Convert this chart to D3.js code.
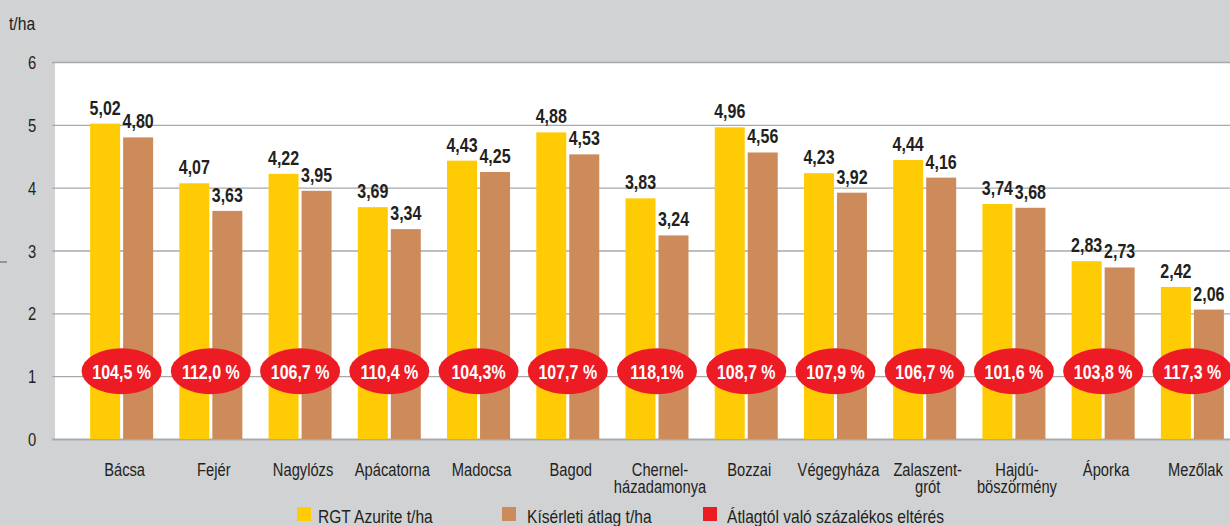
<!DOCTYPE html>
<html>
<head>
<meta charset="utf-8">
<script src="https://cdn.jsdelivr.net/npm/d3@7"></script>
<style>
  html, body { margin: 0; padding: 0; background: #d1d2d4; }
  svg { display: block; }
</style>
</head>
<body>
<div id="chart"></div>
<script>
const categories = [
  ["Bácsa"], ["Fejér"], ["Nagylózs"], ["Apácatorna"], ["Madocsa"], ["Bagod"],
  ["Chernel-", "házadamonya"], ["Bozzai"], ["Végegyháza"], ["Zalaszent-", "grót"],
  ["Hajdú-", "böszörmény"], ["Áporka"], ["Mezőlak"]
]
const azurite = [5.02, 4.07, 4.22, 3.69, 4.43, 4.88, 3.83, 4.96, 4.23, 4.44, 3.74, 2.83, 2.42]
const average = [4.80, 3.63, 3.95, 3.34, 4.25, 4.53, 3.24, 4.56, 3.92, 4.16, 3.68, 2.73, 2.06]
const percent = ["104,5 %", "112,0 %", "106,7 %", "110,4 %", "104,3%", "107,7 %", "118,1%",
  "108,7 %", "107,9 %", "106,7 %", "101,6 %", "103,8 %", "117,3 %"]
const yTicks = [0, 1, 2, 3, 4, 5, 6]
const legendItems = ["RGT Azurite t/ha", "Kísérleti átlag t/ha", "Átlagtól való százalékos eltérés"]

const width = 1230
const height = 526
const plot = {left: 55, top: 62, bottom: 439}
const colors = {yellow: "#ffcb05", tan: "#cd8b5c", red: "#ed1c24", text: "#231f20", grid: "#a7a9ac"}
const font = "'Liberation Sans', Arial, sans-serif"

// squeeze text horizontally, the original uses a condensed face
const squeeze = k => (x, y) => `translate(${x},${y}) scale(${k},1)`

const svg = d3.select("#chart").append("svg")
    .attr("width", width)
    .attr("height", height)
    .attr("font-family", font)

svg.append("rect")
    .attr("width", width).attr("height", height)
    .attr("fill", "#d1d2d4")

svg.append("rect")
    .attr("x", plot.left).attr("y", plot.top)
    .attr("width", width - plot.left).attr("height", plot.bottom - plot.top)
    .attr("fill", "white")

const idx = d3.range(categories.length)
const x = d3.scaleBand()
    .domain(idx)
    .range([77, 1237])

const y = d3.scaleLinear()
    .domain([0, 6])
    .range([plot.bottom, plot.top])

const barW = 30
const gap = 3

// grid + y axis
svg.append("g")
    .attr("transform", `translate(52,0)`)
    .call(d3.axisLeft(y).tickValues(yTicks).tickSize(0).tickFormat(d3.format("d")))
    .call(g => g.select(".domain").remove())
    .call(g => g.selectAll(".tick text")
        .attr("font-family", font)
        .attr("font-size", 18.5)
        .attr("fill", colors.text)
        .attr("text-anchor", "middle")
        .attr("x", 0)
        .attr("dy", "0.36em")
        .attr("transform", squeeze(0.8)(-20, 0)))
    .call(g => g.selectAll(".tick").append("line")
        .attr("x2", width)
        .attr("stroke", colors.grid)
        .attr("stroke-width", d => d === 0 ? 2 : 1.3))

svg.append("line")
    .attr("x1", 0).attr("x2", 7)
    .attr("y1", 262).attr("y2", 262)
    .attr("stroke", "#555").attr("stroke-width", 1)

svg.append("text")
    .attr("transform", squeeze(0.85)(9, 30))
    .attr("font-size", 18.5)
    .attr("fill", colors.text)
    .text("t/ha")

const groups = svg.append("g")
  .selectAll("g")
  .data(idx)
  .join("g")
    .attr("transform", i => `translate(${x(i) + x.bandwidth() / 2},0)`)

groups.append("rect")
    .attr("x", -barW - gap / 2)
    .attr("y", i => y(azurite[i]))
    .attr("width", barW)
    .attr("height", i => y(0) - y(azurite[i]))
    .attr("fill", colors.yellow)

groups.append("rect")
    .attr("x", gap / 2)
    .attr("y", i => y(average[i]))
    .attr("width", barW)
    .attr("height", i => y(0) - y(average[i]))
    .attr("fill", colors.tan)

const fmt = v => d3.format(".2f")(v).replace(".", ",")

groups.append("text")
    .attr("transform", i => squeeze(0.8)(-barW / 2 - gap / 2, y(azurite[i]) - 9))
    .attr("text-anchor", "middle")
    .attr("font-weight", "bold")
    .attr("font-size", 20)
    .attr("fill", colors.text)
    .text(i => fmt(azurite[i]))

groups.append("text")
    .attr("transform", i => squeeze(0.8)(barW / 2 + gap / 2, y(average[i]) - 9))
    .attr("text-anchor", "middle")
    .attr("font-weight", "bold")
    .attr("font-size", 20)
    .attr("fill", colors.text)
    .text(i => fmt(average[i]))

groups.append("ellipse")
    .attr("cx", 0)
    .attr("cy", y(1) - 5)
    .attr("rx", 40)
    .attr("ry", 23)
    .attr("fill", colors.red)

groups.append("text")
    .attr("transform", squeeze(0.78)(0, y(1) - 5))
    .attr("dy", "0.36em")
    .attr("text-anchor", "middle")
    .attr("font-weight", "bold")
    .attr("font-size", 20.5)
    .attr("fill", "white")
    .text(i => percent[i])

groups.append("text")
    .attr("transform", squeeze(0.84)(3, 0))
    .attr("text-anchor", "middle")
    .attr("font-size", 17.5)
    .attr("fill", colors.text)
  .selectAll("tspan")
  .data(i => categories[i])
  .join("tspan")
    .attr("x", 0)
    .attr("y", (d, j) => 476 + j * 17)
    .text(d => d)

// legend
const legendX = [297, 502, 703]
const legendTextX = [318, 527, 727]
const legendColors = [colors.yellow, colors.tan, colors.red]
const legend = svg.append("g")
  .selectAll("g")
  .data(legendItems)
  .join("g")

legend.append("rect")
    .attr("x", (d, i) => legendX[i])
    .attr("y", 507)
    .attr("width", 14).attr("height", 14)
    .attr("fill", (d, i) => legendColors[i])

legend.append("text")
    .attr("transform", (d, i) => squeeze(0.89)(legendTextX[i], 522.5))
    .attr("font-size", 17.5)
    .attr("fill", colors.text)
    .text(d => d)
</script>
</body>
</html>
